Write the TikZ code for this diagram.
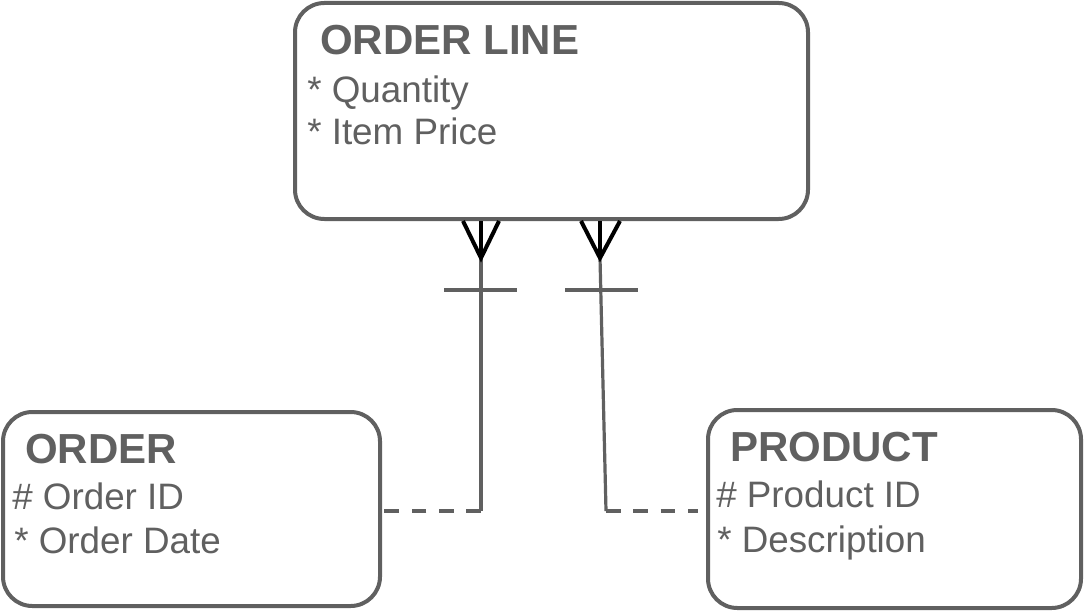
\documentclass[tikz,border=0pt]{standalone}
\usepackage{fontspec}
\setmainfont{Liberation Sans}
\begin{document}
\begin{tikzpicture}[x=0.75pt,y=-0.75pt,
  entity/.style={draw=gray60,line width=3pt,rounded corners=22pt,rectangle,inner sep=0pt,fill=white},
  title/.style={anchor=base west,inner sep=0pt,text=gray60,font=\fontsize{31.5}{36}\selectfont\bfseries},
  attr/.style={anchor=base west,inner sep=0pt,text=gray60,font=\fontsize{27.6}{32}\selectfont},
  rel/.style={draw=gray60,line width=2.4pt},
  reldash/.style={rel,dash pattern=on 11pt off 9.5pt},
  foot/.style={draw=black,line width=3pt},
  bar/.style={draw=gray60,line width=2.4pt}]
\definecolor{gray60}{HTML}{606060}
\useasboundingbox (0,0) rectangle (1084,613);

% entity boxes
\node[entity,minimum width=384.75pt,minimum height=162pt] (ol) at (551.5,111) {};
\node[entity,minimum width=282.75pt,minimum height=145.5pt] (ord) at (191.5,509) {};
\node[entity,minimum width=279.75pt,minimum height=148.5pt] (prod) at (894.5,509) {};

% ORDER LINE
\node[title] (olt) at (320,55) {ORDER LINE};
\node[attr] (olq) at (307,103) {* Quantity};
\node[attr] (olp) at (307,145) {* Item Price};

% ORDER
\node[title] (ordt) at (25,463) {ORDER};
\node[attr] (ordi) at (12,509) {\# Order ID};
\node[attr] (ordd) at (14,553) {* Order Date};

% PRODUCT
\node[title] (prodt) at (730,461) {PRODUCT};
\node[attr] (prodi) at (716,507) {\# Product ID};
\node[attr] (prodd) at (717,552) {* Description};

% ORDER LINE -- ORDER relationship
\coordinate (v1) at (481,258);
\coordinate (k1) at (481,511);
\draw[rel] (v1) -- (k1);
\draw[reldash] (k1) -- (ord.east |- k1);
\draw[foot] (ol.south -| 463,0) -- (v1) -- (ol.south -| 499,0);
\draw[foot] (ol.south -| v1) -- (v1);
\coordinate (b1l) at (444,290);
\coordinate (b1r) at (517,290);
\draw[bar] (b1l) -- (b1r);

% ORDER LINE -- PRODUCT relationship
\coordinate (v2) at (600,258);
\coordinate (k2) at (606,511);
\draw[rel] (v2) -- (k2);
\draw[reldash] (k2) -- (698,511) coordinate (e2);
\draw[foot] (ol.south -| 581,0) -- (v2) -- (ol.south -| 620,0);
\draw[foot] (ol.south -| v2) -- (v2);
\coordinate (b2l) at (565,290);
\coordinate (b2r) at (638,290);
\draw[bar] (b2l) -- (b2r);
\end{tikzpicture}
\end{document}
